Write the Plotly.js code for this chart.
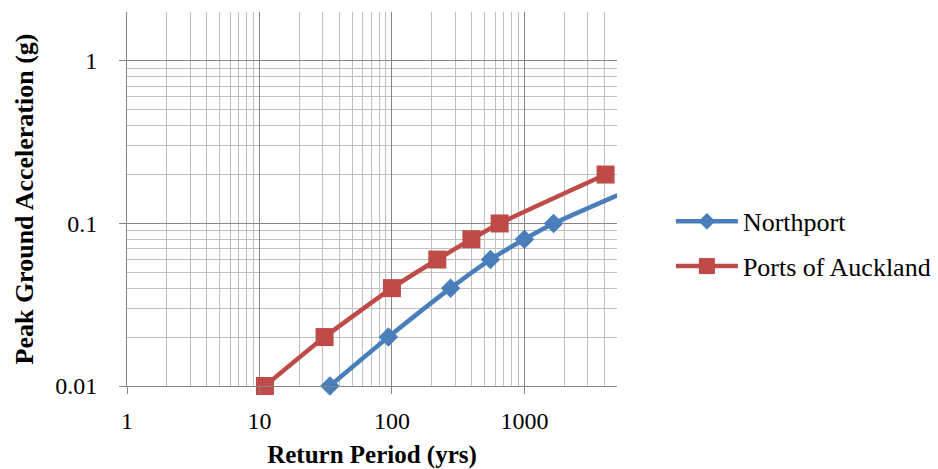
<!DOCTYPE html>
<html>
<head>
<meta charset="utf-8">
<script src="https://cdn.plot.ly/plotly-3.0.1.min.js"></script>
<style>html,body{margin:0;padding:0;background:#fff;}#chart{width:938px;height:469px;}</style>
</head>
<body>
<div id="chart"></div>
<script>
// Data
const northportPeriod = [34, 94, 277, 554, 1000, 1660, 10000];
const northportPGA    = [0.01, 0.02, 0.04, 0.06, 0.08, 0.1, 0.19];
const aucklandPeriod  = [11, 31, 100, 220, 398, 650, 4100];
const aucklandPGA     = [0.01, 0.02, 0.04, 0.06, 0.08, 0.1, 0.2];
const xTickVals = [1, 10, 100, 1000];
const xTickText = ['1', '10', '100', '1000'];
const yTickVals = [0.01, 0.1, 1];
const yTickText = ['0.01', '0.1', '1'];

const FONT = 'Liberation Serif';

const traces = [
  {
    x: northportPeriod, y: northportPGA, name: 'Northport',
    type: 'scatter', mode: 'lines+markers', cliponaxis: false,
    legendgroup: 'a',
    line: {color: '#4A7EBB', width: 4.5, shape: 'spline', smoothing: 0.5},
    marker: {symbol: 'diamond', opacity: 1, line: {width: 0},
             size: northportPeriod.map((v, i) => i === northportPeriod.length - 1 ? 0 : 15), color: '#4A7EBB'}
  },
  {
    x: aucklandPeriod, y: aucklandPGA, name: 'Ports of Auckland',
    type: 'scatter', mode: 'lines+markers', cliponaxis: false,
    legendgroup: 'b',
    line: {color: '#BE4B48', width: 4.5, shape: 'spline', smoothing: 0.5},
    marker: {symbol: 'square', size: 18, opacity: 1, color: '#BE4B48'}
  }
];

const layout = {
  width: 938, height: 469,
  margin: {l: 127, r: 321, t: 12, b: 83, autoexpand: false},
  paper_bgcolor: '#fff', plot_bgcolor: '#fff',
  font: {family: FONT, size: 24, color: '#000'},
  showlegend: true,
  legend: {
    x: 1.11, y: 0.38, xanchor: 'left', yanchor: 'middle',
    font: {family: FONT, size: 26, color: '#000'},
    traceorder: 'grouped', tracegroupgap: 8,
    itemwidth: 62, bgcolor: 'rgba(0,0,0,0)'
  },
  xaxis: {
    type: 'log', range: [0, Math.log10(5000)],
    tickvals: xTickVals, ticktext: xTickText,
    ticks: 'outside', ticklen: 7, tickcolor: '#868686', tickwidth: 1,
    ticklabelstandoff: 6,
    showline: true, linecolor: '#868686', linewidth: 1,
    showgrid: true, gridcolor: '#868686', gridwidth: 1,
    minor: {dtick: 'D1', showgrid: true, gridcolor: '#BFBFBF', gridwidth: 1, ticks: ''},
    zeroline: false,
    tickfont: {family: FONT, size: 24, color: '#000'},
    title: {text: '<b>Return Period (yrs)</b>', font: {family: FONT, size: 25, color: '#000'}, standoff: 14}
  },
  yaxis: {
    type: 'log', range: [-2, Math.log10(2)],
    tickvals: yTickVals, ticktext: yTickText,
    ticks: 'outside', ticklen: 7, tickcolor: '#868686', tickwidth: 1,
    ticklabelstandoff: 17,
    showline: true, linecolor: '#868686', linewidth: 1,
    showgrid: true, gridcolor: '#868686', gridwidth: 1,
    minor: {dtick: 'D1', showgrid: true, gridcolor: '#BFBFBF', gridwidth: 1, ticks: ''},
    zeroline: false,
    tickfont: {family: FONT, size: 24, color: '#000'},
    title: {text: '<b>Peak Ground Acceleration (g)</b>', font: {family: FONT, size: 26, color: '#000'}, standoff: 14}
  }
};

Plotly.newPlot('chart', traces, layout, {displayModeBar: false, staticPlot: true});
</script>
</body>
</html>
